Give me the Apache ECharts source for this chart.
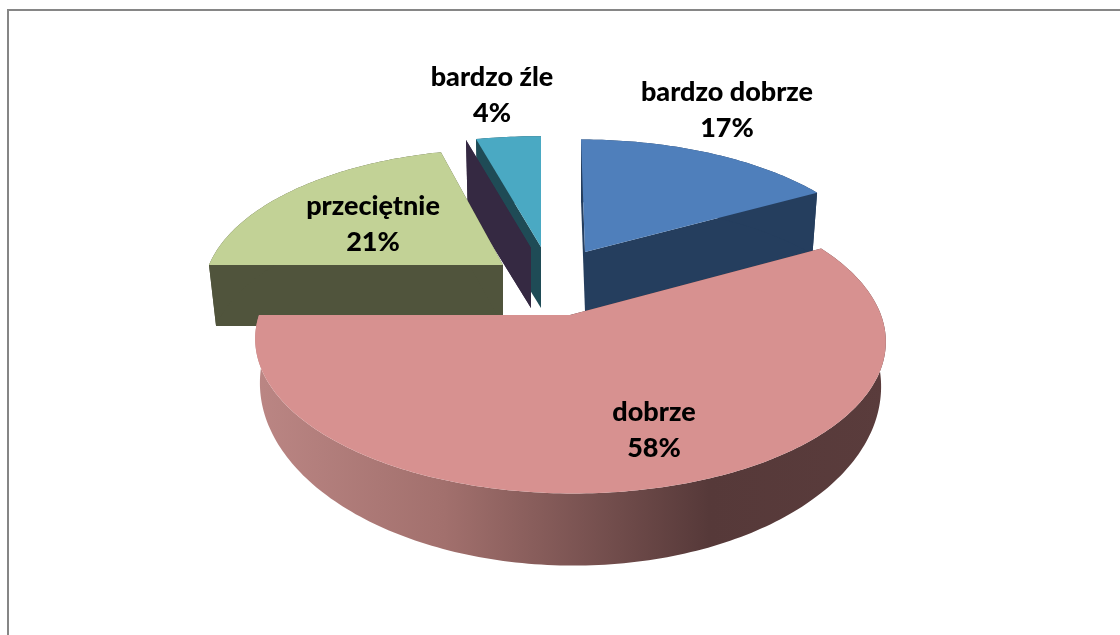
<!DOCTYPE html>
<html>
<head>
<meta charset="utf-8">
<script src="https://cdn.jsdelivr.net/npm/echarts@6/dist/echarts.min.js"></script>
<style>html,body{margin:0;padding:0;background:#fff}#c{width:1120px;height:635px}</style>
</head>
<body>
<div id="c"></div>
<script>
var categories = ['bardzo dobrze', 'dobrze', 'przeciętnie', 'źle', 'bardzo źle'];
var shares = [17, 58, 21, 0, 4];
var topColors = ['#4f7fbb', '#d79190', '#c2d296', '#7b5f9e', '#4aa9c3'];
var sideColors = ['#253e5e', '#563939', '#50543c', '#352942', '#1f4b56'];
// paint order (back to front) of the exploded slices
var paintOrder = [4, 3, 2, 0, 1];
// pie layout: exploded apex, perspective radii, wall depth for each slice
var apexX = [585, 570, 503, 531, 541];
var apexY = [252, 315, 265, 248, 247];
var radiusX = [293, 311, 294, 312, 312];
var radiusY = [135, 149, 139, 133, 133];
var skew = [-4.8, -3, -1, 0, 0];
var perspective = [0.2, 0.165, 0.2, 0.2, 0.2];
var depth = [60, 40, 61, 60, 61];
var baseScaleX = [0.98, 0.985, 0.976, 0.975, 0.975];
var baseScaleY = [0.975, 1.18, 0.975, 0.95, 0.95];
var labelX = [727, 654, 373, 0, 492];
var labelY = [110, 430, 224, 0, 95];

var total = shares.reduce(function (a, b) { return a + b; }, 0);

function rimPoint(i, deg, lower) {
  var t = deg * Math.PI / 180, s = Math.sin(t), c = Math.cos(t);
  var d = 1 + perspective[i] * c;
  var dx = (radiusX[i] * s + skew[i] * c) / d;
  var dy = -radiusY[i] * c / d;
  if (lower) return [apexX[i] + dx * baseScaleX[i], apexY[i] + dy * baseScaleY[i] + depth[i]];
  return [apexX[i] + dx, apexY[i] + dy];
}
function arc(i, a, b, lower) {
  var pts = [], n = Math.max(1, Math.ceil(Math.abs(b - a)));
  for (var k = 0; k <= n; k++) pts.push(rimPoint(i, a + (b - a) * k / n, lower));
  return pts;
}

function renderSlice(params, api) {
  var i = params.dataIndex, value = api.value(0), before = 0;
  for (var j = 0; j < i; j++) before += shares[j];
  var a0 = before / total * 360, a1 = (before + value) / total * 360;
  var z = paintOrder.indexOf(i) * 10 + 1;
  var top = [apexX[i], apexY[i]];
  var bottom = [apexX[i], apexY[i] + depth[i]];
  var side = sideColors[i];
  var outerFill = i === 1 ? {
    type: 'linear', x: 0, y: 0, x2: 1, y2: 0,
    colorStops: [
      { offset: 0, color: '#bb8684' }, { offset: 0.3, color: '#a2706d' },
      { offset: 0.72, color: '#563939' }, { offset: 1, color: '#5a3c3c' }
    ]
  } : side;
  var kids = [
    { type: 'polygon', z2: z, shape: { points: [top, rimPoint(i, a0), rimPoint(i, a0, true), bottom] }, style: { fill: side } },
    { type: 'polygon', z2: z + 1, shape: { points: [top, rimPoint(i, a1), rimPoint(i, a1, true), bottom] }, style: { fill: side } }
  ];
  if (value > 0) {
    kids.push({ type: 'polygon', z2: z + 2, shape: { points: arc(i, a0, a1).concat(arc(i, a1, a0, true)) }, style: { fill: outerFill } });
    kids.push({ type: 'polygon', z2: z + 3, shape: { points: [top].concat(arc(i, a0, a1)) }, style: { fill: topColors[i] } });
    kids.push({
      type: 'text', z2: 200,
      style: {
        text: categories[i] + '\n' + value + '%', x: labelX[i], y: labelY[i],
        align: 'center', verticalAlign: 'middle',
        fontFamily: 'Lato', fontWeight: 900, fontSize: 27, lineHeight: 36, fill: '#000'
      }
    });
  }
  return { type: 'group', children: kids };
}

var chart = echarts.init(document.getElementById('c'), null, { renderer: 'canvas' });
chart.setOption({
  animation: false,
  backgroundColor: '#ffffff',
  graphic: [{
    type: 'polyline', silent: true,
    shape: { points: [[8, 635], [8, 10], [1120, 10]] },
    style: { fill: null, stroke: '#868686', lineWidth: 2 }
  }],
  series: [{
    type: 'custom', coordinateSystem: 'none', silent: true,
    renderItem: renderSlice,
    data: shares.map(function (v, i) { return { name: categories[i], value: [v] }; })
  }]
});
</script>
</body>
</html>
